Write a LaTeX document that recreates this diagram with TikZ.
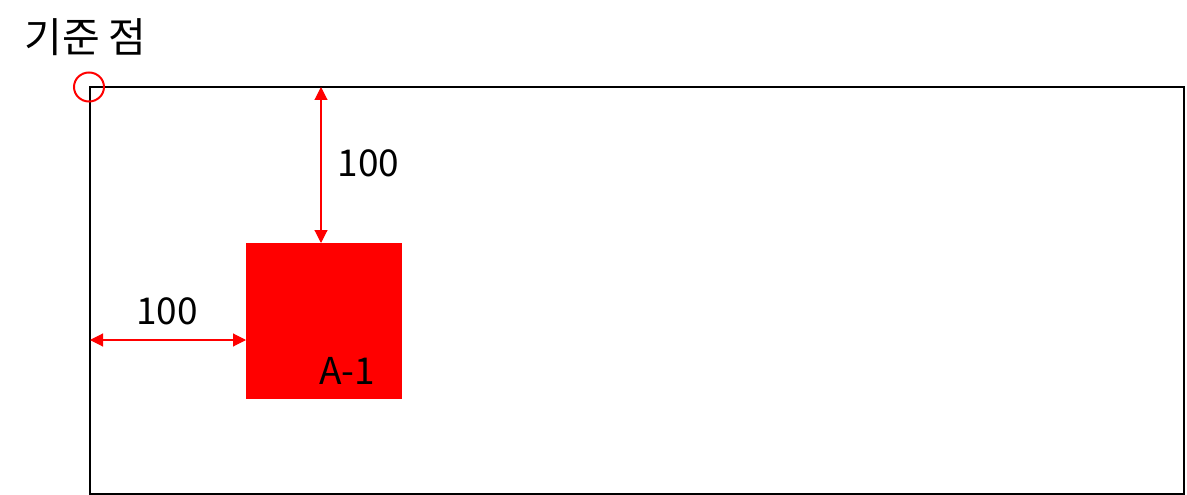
\documentclass[tikz,border=0pt]{standalone}
\usepackage{fontspec}
\setmainfont{Noto Sans CJK KR}
\usetikzlibrary{arrows.meta,shapes.geometric}
\begin{document}
\begin{tikzpicture}[x=1pt,y=-1pt,
  dim/.style={red,line width=1.1pt,{Triangle[length=13pt,width=13pt]}-{Triangle[length=13pt,width=13pt]}},
  lbl/.style={inner sep=0pt,font=\fontsize{37}{44}\selectfont},
  ttl/.style={inner sep=0pt,font=\fontsize{41}{48}\selectfont}]
\useasboundingbox (0,0) rectangle (1187,495);
\node[draw,line width=2pt,minimum width=1094pt,minimum height=407pt,inner sep=0pt,anchor=north west] (frame) at (89,86) {};
\node[fill=red,minimum width=156pt,minimum height=156pt,inner sep=0pt,anchor=north west] (sq) at (246,243) {};
\node[draw=red,line width=2pt,ellipse,minimum width=30pt,minimum height=29pt,inner sep=0pt] (origin) at (89,87) {};
\node[ttl] (title) at (85.5,37) {기준 점};
\coordinate (vtop) at (321,87);
\coordinate (vbot) at (321,243);
\coordinate (hl) at (90,340);
\coordinate (hr) at (246,340);
\draw[dim] (vtop) -- (vbot);
\draw[dim] (hl) -- (hr);
\node[lbl] (l1) at (368.5,163.5) {100};
\node[lbl] (l2) at (167,311.5) {100};
\node[lbl] (a1) at (347,370.5) {A-1};
\end{tikzpicture}
\end{document}
